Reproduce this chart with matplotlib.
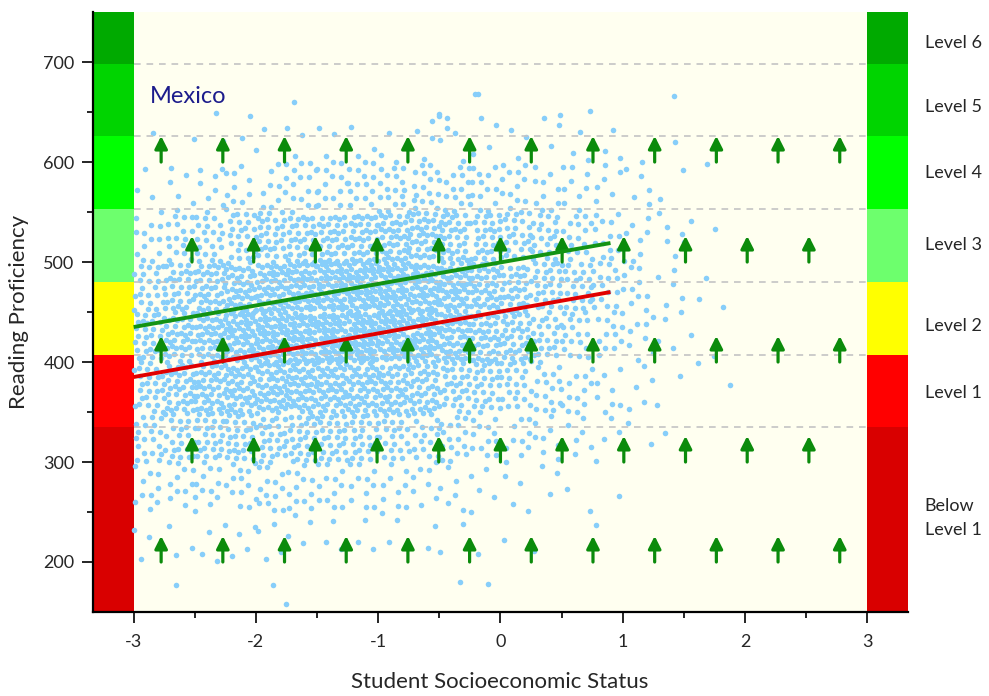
import numpy as np
import matplotlib.pyplot as plt

plt.rcParams['font.family'] = ['Lato', 'DejaVu Sans']
plt.rcParams['axes.unicode_minus'] = False

# ---- data ----
# point cloud: counts per cell, one row per SES bin (0.25 wide, -3 .. 2),
# columns = reading bins of 50 points (150 .. 700)
ses_bins = np.arange(-3.0, 2.01, 0.25)
reading_bins = np.arange(150, 701, 50)
cloud_counts = [
    [0, 3, 10, 20, 28, 30, 23, 12, 4, 1, 0],
    [0, 3, 11, 24, 36, 40, 32, 17, 6, 1, 0],
    [0, 4, 12, 27, 41, 48, 38, 21, 8, 2, 0],
    [0, 4, 13, 29, 46, 55, 45, 25, 10, 2, 0],
    [0, 4, 13, 29, 48, 60, 50, 30, 11, 2, 0],
    [0, 4, 12, 29, 48, 62, 54, 32, 13, 3, 0],
    [0, 3, 12, 28, 48, 64, 58, 35, 14, 3, 0],
    [0, 3, 11, 26, 46, 64, 60, 38, 15, 3, 0],
    [0, 3, 9, 22, 42, 60, 60, 40, 17, 3, 0],
    [0, 2, 8, 19, 37, 55, 56, 38, 17, 4, 0],
    [0, 2, 6, 16, 32, 48, 50, 34, 15, 4, 0],
    [0, 1, 5, 13, 27, 40, 43, 30, 13, 4, 0],
    [0, 1, 4, 10, 22, 33, 36, 26, 12, 3, 0],
    [0, 1, 3, 8, 16, 26, 29, 22, 10, 3, 0],
    [0, 0, 2, 6, 12, 19, 22, 17, 9, 3, 0],
    [0, 1, 1, 4, 8, 13, 16, 13, 6, 3, 0],
    [0, 0, 0, 2, 5, 8, 10, 9, 5, 1, 0],
    [0, 0, 0, 1, 2, 4, 5, 5, 2, 1, 0],
    [0, 0, 0, 0, 1, 2, 2, 2, 1, 0, 0],
    [0, 0, 0, 0, 1, 0, 1, 1, 0, 0, 0],
]
# isolated points outside the main cloud
outlier_ses = [-2.65, -1.86, -1.75, -0.33, -0.10,
               -1.69, -0.21, -0.18, 1.42, 0.73, 0.49, -0.50, -0.56, -0.44]
outlier_read = [177, 177, 158, 180, 178,
                660, 668, 668, 666, 651, 647, 648, 641, 634]

# regression lines
line_ses = [-3.0, 0.9]
green_read = [435, 519]
red_read = [385, 470]

# PISA reading proficiency levels
level_cuts = [150, 334.75, 407.47, 480.18, 552.89, 625.61, 698.32, 750]
level_colors = ['#d90000', '#ff0000', '#ffff00', '#6dff6d',
                '#00ff00', '#00d400', '#00aa00']
level_names = ['Below\nLevel 1', 'Level 1', 'Level 2', 'Level 3',
               'Level 4', 'Level 5', 'Level 6']
level_label_y = [244, 369, 436, 517, 589, 655, 719]

# ---- build the cloud: counts spread inside each cell ----
g = 1.32471795724474602596
a1, a2 = 1 / g, 1 / g ** 2
xs, ys = [], []
k = 0
for i, row in enumerate(cloud_counts):
    for j, n in enumerate(row):
        for _ in range(n):
            u = (0.5 + k * a1) % 1
            v = (0.5 + k * a2) % 1
            xs.append(ses_bins[i] + u * 0.25)
            ys.append(reading_bins[j] + v * 50)
            k += 1
xs += outlier_ses
ys += outlier_read

# ---- figure ----
fig = plt.figure(figsize=(9.89, 6.96), dpi=100)
ax = fig.add_axes([0.0937, 0.1207, 0.824, 0.862])
xmin, xmax = -3.335, 3.33
ax.set_xlim(xmin, xmax)
ax.set_ylim(150, 750)
ax.set_facecolor('#fffff0')

# side colour bands
for lo, hi, c in zip(level_cuts[:-1], level_cuts[1:], level_colors):
    ax.fill_between([xmin, -3], lo, hi, color=c, lw=0, zorder=1)
    ax.fill_between([3, xmax], lo, hi, color=c, lw=0, zorder=1)

ax.scatter(xs, ys, s=16, color='#87cefa', lw=0, zorder=2)

ax.hlines(level_cuts[1:-1], -3, 3, colors='#c4c4c4', lw=1.2,
          linestyles=(0, (4, 3.5)), zorder=3)

# upward arrows
arrow_x = np.linspace(-2.775, 2.775, 12)
arrow_mid = (arrow_x[:-1] + arrow_x[1:]) / 2
for tail in [200, 300, 400, 500, 600]:
    cols = arrow_x if tail in (200, 400, 600) else arrow_mid
    for x in cols:
        ax.annotate('', xy=(x, tail + 26), xytext=(x, tail),
                    arrowprops=dict(arrowstyle='-|>,head_length=0.75,head_width=0.38',
                                    color='#0b8b0b', lw=2.3, mutation_scale=10,
                                    shrinkA=0, shrinkB=0),
                    zorder=4)

ax.plot(line_ses, green_read, color='#139313', lw=2.8, zorder=5,
        solid_capstyle='butt')
ax.plot(line_ses, red_read, color='#e00000', lw=2.8, zorder=5,
        solid_capstyle='butt')

ax.text(-2.87, 666, 'Mexico', color='#1c1c8c', fontsize=17, va='center',
        ha='left', zorder=6)

for name, y in zip(level_names, level_label_y):
    ax.text(3.47, y, name, fontsize=13, color='#262626', va='center',
            ha='left', linespacing=1.55, clip_on=False)

# axes styling
for s in ['top', 'right']:
    ax.spines[s].set_visible(False)
for s in ['left', 'bottom']:
    ax.spines[s].set_linewidth(1.6)
ax.set_xticks(range(-3, 4))
ax.set_xticks(np.arange(-2.5, 3, 1.0), minor=True)
ax.set_yticks(range(200, 701, 100))
ax.set_yticks(range(250, 700, 100), minor=True)
ax.tick_params(which='major', length=8, width=1.2, labelsize=13,
               labelcolor='#262626')
ax.tick_params(which='minor', length=4, width=1.2)
ax.tick_params(axis='x', pad=8)
ax.tick_params(axis='y', pad=5)
ax.set_xlabel('Student Socioeconomic Status', fontsize=16, color='#262626',
              labelpad=16)
ax.set_ylabel('Reading Proficiency', fontsize=16, color='#262626', labelpad=10)

fig.savefig('out.png', dpi=100)
